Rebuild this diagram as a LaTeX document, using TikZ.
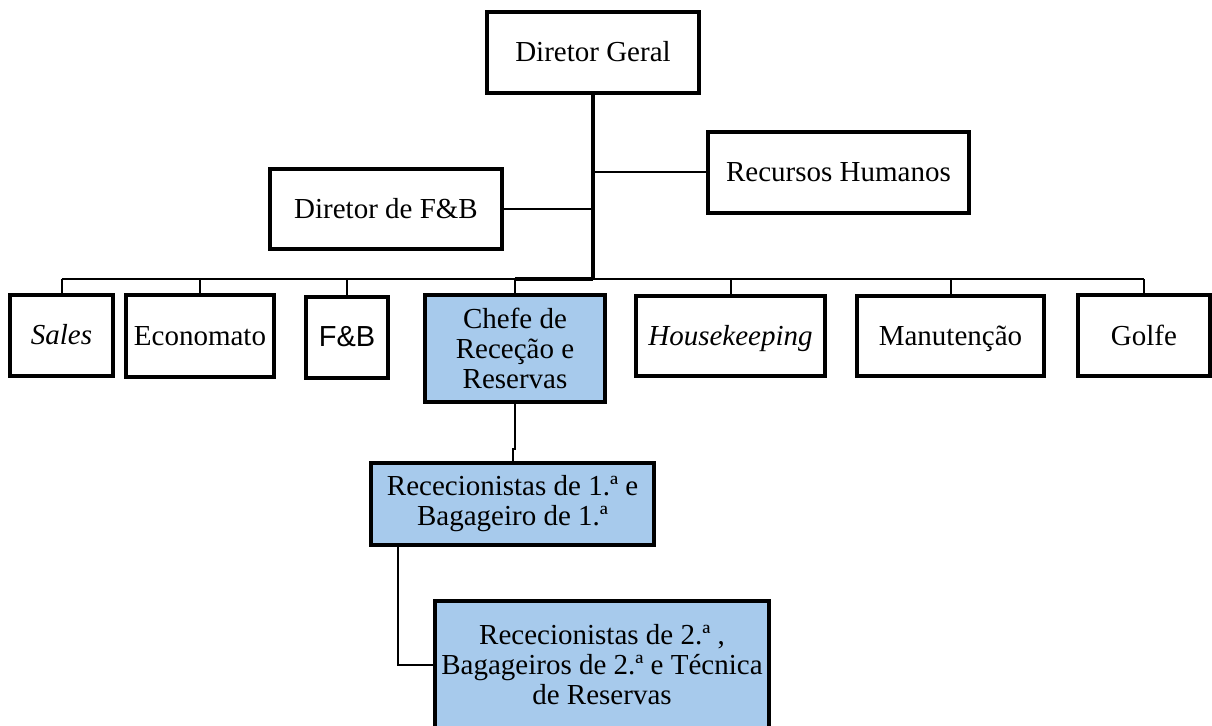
\documentclass[tikz,border=0pt]{standalone}
\usepackage{fontspec}
\setmainfont{Liberation Serif}
\setsansfont{Liberation Sans}
\usepackage{tikz}

\definecolor{rececaoblue}{RGB}{167,202,236}
\tikzset{
	box/.style={draw, line width=2pt, inner sep=0pt, align=center, font=\fontsize{14.5}{15}\selectfont},
	oneline/.style={box, text height=11.5pt, text depth=2pt},
	bluebox/.style={box, fill=rececaoblue},
	link/.style={line width=1pt},
	trunk/.style={line width=1.8pt}
}

\begin{document}
\begin{tikzpicture}[x=0.5pt,y=-0.5pt]
			%%Location
			\useasboundingbox (0,0) rectangle (1212,726);
			\coordinate (bus) at (593,279);
			
			%%Top
			\node[oneline, minimum width=106pt, minimum height=40.5pt] (geral) at (593,52.5) {Diretor Geral};
			\node[oneline, minimum width=130.5pt, minimum height=40.5pt] (rh) at (838.5,172.5) {Recursos Humanos};
			\node[oneline, minimum width=116pt, minimum height=40pt] (dfb) at (386,209) {Diretor de F\&B};
			
			%%Departments
			\node[oneline, minimum width=51.5pt, minimum height=40.5pt] (sales) at (61.5,335.5) {\textit{Sales}};
			\node[oneline, minimum width=74pt, minimum height=41pt] (economato) at (200,336) {Economato};
			\node[oneline, minimum width=41pt, minimum height=40.5pt] (fb) at (347,337.5) {\sffamily F\&B};
			\node[bluebox, minimum width=90pt, minimum height=53.5pt] (chefe) at (515,348.5) {Chefe de\\Receção e\\Reservas};
			\node[oneline, minimum width=94.5pt, minimum height=40pt] (housekeeping) at (730.5,336) {\textit{Housekeeping}};
			\node[oneline, minimum width=93.5pt, minimum height=40pt] (manutencao) at (950.5,336) {Manutenção};
			\node[oneline, minimum width=66pt, minimum height=40.5pt] (golfe) at (1144,336) {Golfe};
			
			%%Reception
			\node[bluebox, minimum width=141.5pt, minimum height=41pt] (r1) at (512.5,504) {Rececionistas de 1.ª e\\Bagageiro de 1.ª};
			\node[bluebox, minimum width=167pt, minimum height=64pt] (r2) at (602,665) {Rececionistas de 2.ª ,\\Bagageiros de 2.ª e Técnica\\de Reservas};
			
			%%Lines
			\draw[trunk] (geral.south) -- (bus);
			\draw[link] (rh.west) -- (rh.west -| bus);
			\draw[link] (dfb.east) -- (dfb.east -| bus);
			\draw[link] (sales.north |- bus) -- (golfe.north |- bus);
			\draw[trunk] (chefe.north |- bus) -- (bus);
			\foreach \b in {sales,economato,fb,chefe,housekeeping,manutencao,golfe}
				\draw[link] (\b.north) -- (\b.north |- bus);
			\draw[link] (chefe.south) -- ++(0,45) -| (r1.north);
			\draw[link] ([xshift=14.5pt]r1.south west) |- (r2.west);
			
\end{tikzpicture}
\end{document}
